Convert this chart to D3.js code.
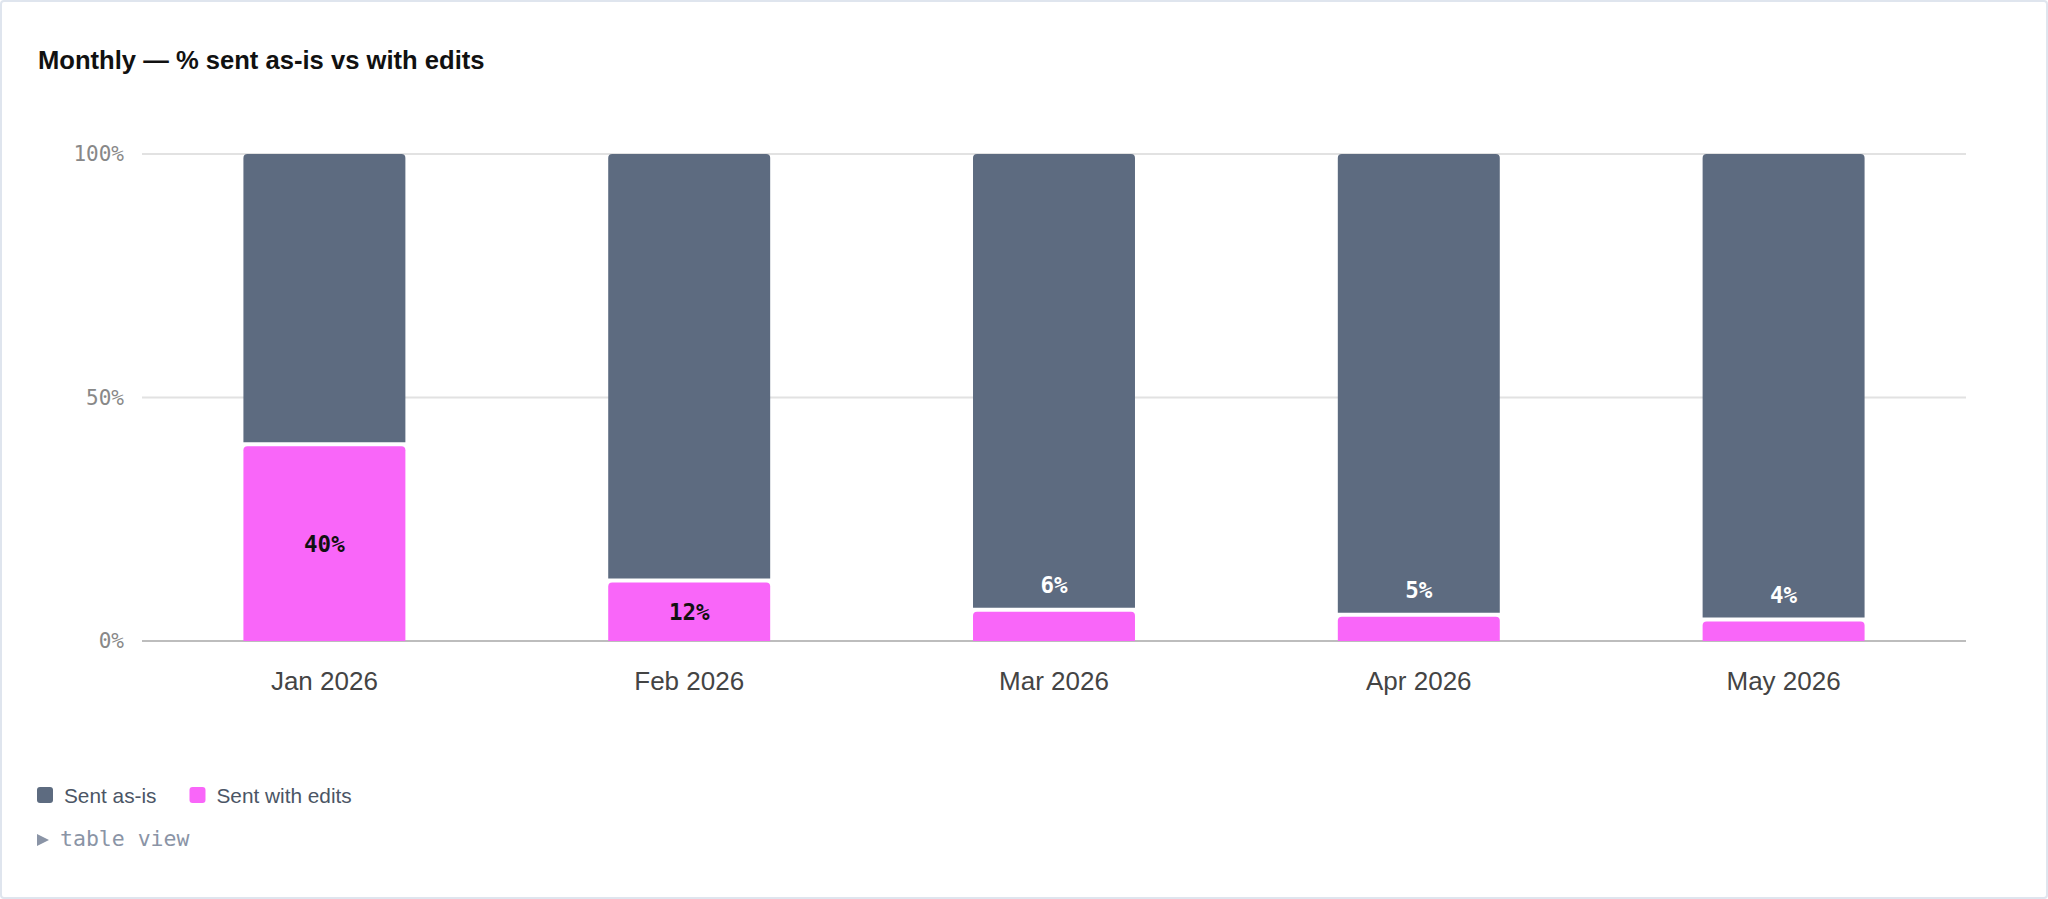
<!DOCTYPE html>
<head>
	<meta charset="UTF-8">
	<script src="https://d3js.org/d3.v7.min.js"></script>
	<title>Monthly - % sent as-is vs with edits</title>
<style>
	body{
		margin: 0;
		background-color: #fff;
	}
	svg{
		display: block;
	}
</style>
</head>

<body>
	<svg width=2048 height=899></svg>
</body>

<script>
	// Chart data
	var months = ["Jan 2026", "Feb 2026", "Mar 2026", "Apr 2026", "May 2026"];
	var sentAsIs = [60, 88, 94, 95, 96];
	var sentWithEdits = [40, 12, 6, 5, 4];
	var yTicks = [0, 50, 100];
	var seriesNames = ["Sent as-is", "Sent with edits"];

	var grayBar = "#5d6b80";
	var pinkBar = "#f966f9";
	var sansFont = "'Liberation Sans', Arial, sans-serif";
	var monoFont = "'DejaVu Sans Mono', monospace";

	var svg = d3.select("svg");

	// Card border
	svg.append("rect")
		.attr("x", 1).attr("y", 1)
		.attr("width", 2046).attr("height", 897)
		.attr("rx", 3)
		.style("fill", "#fff")
		.style("stroke", "#dfe5ee")
		.style("stroke-width", 2);

	// Title
	svg.append("text")
		.attr("x", 38)
		.attr("y", 69)
		.text("Monthly — % sent as-is vs with edits")
		.attr("font-family", sansFont)
		.attr("font-weight", "bold")
		.attr("font-size", 25.6)
		.attr("fill", "#111");

	// Scales
	var x = d3.scaleBand()
				.domain(months)
				.range([142, 1966])
				.padding(0);
	var barWidth = x.bandwidth() * 0.444;

	var y = d3.scaleLinear()
				.domain([0, 100])
				.range([641, 154]);

	// Gridlines and y labels
	var grid = svg.append("g").attr("id", "grid");
	grid.selectAll("line")
		.data(yTicks).enter()
		.append("line")
		.attr("x1", 142)
		.attr("x2", 1966)
		.attr("y1", d => y(d))
		.attr("y2", d => y(d))
		.style("stroke", d => d == 0 ? "#bdbdbd" : "#e2e2e2")
		.style("stroke-width", 2);
	grid.selectAll("text")
		.data(yTicks).enter()
		.append("text")
		.attr("x", 124)
		.attr("y", d => y(d))
		.text(d => d + "%")
		.attr("text-anchor", "end")
		.attr("dominant-baseline", "central")
		.attr("font-family", monoFont)
		.attr("font-size", 21)
		.attr("fill", "#888");

	// Stack the two series
	var rows = months.map((m, i) => ({month: m, edits: sentWithEdits[i], asIs: sentAsIs[i]}));
	var stack = d3.stack().keys(["edits", "asIs"])(rows);
	var colors = {edits: pinkBar, asIs: grayBar};

	// Rect with rounded top corners only
	function segPath(x0, y0, w, h, r){
		return "M" + x0 + "," + (y0 + h) +
			"V" + (y0 + r) +
			"Q" + x0 + "," + y0 + " " + (x0 + r) + "," + y0 +
			"H" + (x0 + w - r) +
			"Q" + (x0 + w) + "," + y0 + " " + (x0 + w) + "," + (y0 + r) +
			"V" + (y0 + h) + "Z";
	}

	var bars = svg.append("g").attr("id", "bars");
	stack.forEach(function(layer){
		bars.append("g")
			.selectAll("path")
			.data(layer).enter()
			.append("path")
			.attr("d", function(d){
				var x0 = x(d.data.month) + (x.bandwidth() - barWidth) / 2;
				var top = y(d[1]);
				var bottom = y(d[0]) - (d[0] > 0 ? 4 : 0);
				return segPath(x0, top, barWidth, bottom - top, 4);
			})
			.style("fill", colors[layer.key]);
	});

	// Value labels for the edits segment
	svg.append("g")
		.attr("id", "labels")
		.selectAll("text")
		.data(stack[0]).enter()
		.append("text")
		.attr("x", d => x(d.data.month) + x.bandwidth() / 2)
		.attr("y", function(d){
			var h = y(d[0]) - y(d[1]);
			return h >= 40 ? (y(d[0]) + y(d[1])) / 2 : y(d[1]) - 27;
		})
		.text(d => d.data.edits + "%")
		.attr("text-anchor", "middle")
		.attr("dominant-baseline", "central")
		.attr("font-family", monoFont)
		.attr("font-weight", "bold")
		.attr("font-size", 22.5)
		.attr("fill", d => (y(d[0]) - y(d[1])) >= 40 ? "#111" : "#fff");

	// X axis labels
	svg.append("g")
		.attr("id", "xlabels")
		.selectAll("text")
		.data(months).enter()
		.append("text")
		.attr("x", d => x(d) + x.bandwidth() / 2)
		.attr("y", 690)
		.text(d => d)
		.attr("text-anchor", "middle")
		.attr("font-family", sansFont)
		.attr("font-size", 26)
		.attr("fill", "#444");

	// Legend
	var legend = svg.append("g").attr("id", "legend");
	var legendX = 37;
	[grayBar, pinkBar].forEach(function(c, i){
		legend.append("rect")
			.attr("x", legendX)
			.attr("y", 787)
			.attr("width", 16)
			.attr("height", 16)
			.attr("rx", 3)
			.style("fill", c);
		var t = legend.append("text")
			.attr("x", legendX + 27)
			.attr("y", 803)
			.text(seriesNames[i])
			.attr("font-family", sansFont)
			.attr("font-size", 20.8)
			.attr("fill", "#4b5565");
		legendX += 27 + t.node().getComputedTextLength() + 33;
	});

	// Table view toggle
	var toggle = svg.append("g").attr("id", "toggle");
	toggle.append("path")
		.attr("d", "M37,834 L49,840 L37,846 Z")
		.style("fill", "#8a94a6");
	toggle.append("text")
		.attr("x", 60)
		.attr("y", 846)
		.text("table view")
		.attr("font-family", monoFont)
		.attr("font-size", 21.5)
		.attr("fill", "#8a94a6");
</script>
